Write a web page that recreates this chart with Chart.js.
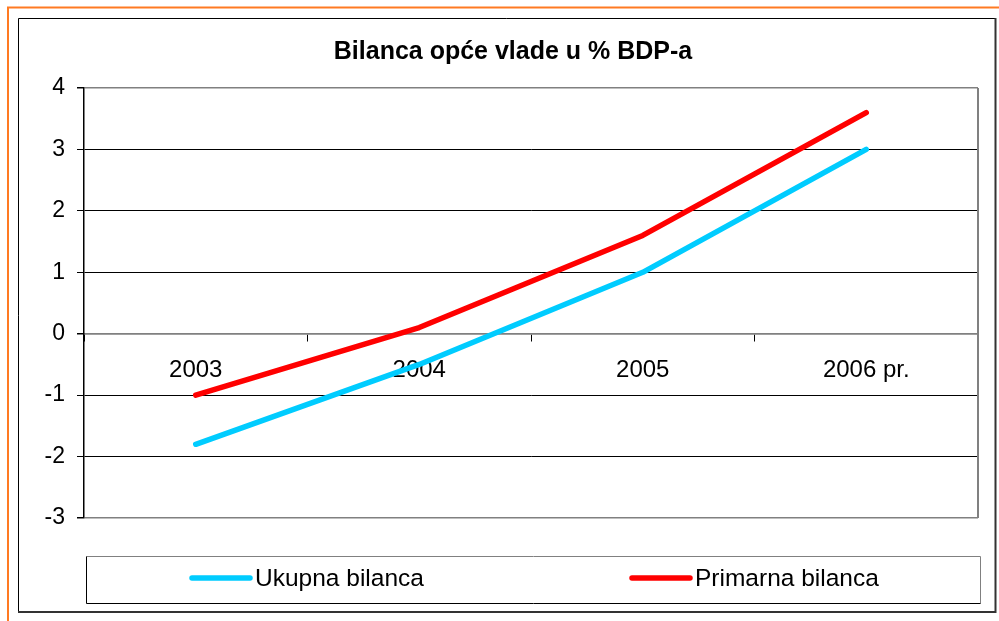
<!DOCTYPE html>
<html>
<head>
<meta charset="utf-8">
<script src="https://cdn.jsdelivr.net/npm/chart.js@4/dist/chart.umd.min.js"></script>
<style>
  body { margin: 0; background: #fff; }
  canvas { display: block; }
</style>
</head>
<body>
<canvas id="chart" width="999" height="621"></canvas>
<script>
// Data
const years = ['2003', '2004', '2005', '2006 pr.'];
const ukupna = [-1.8, -0.5, 1.0, 3.0];
const primarna = [-1.0, 0.1, 1.6, 3.6];
const yTicks = [-3, -2, -1, 0, 1, 2, 3, 4];
const chartTitle = 'Bilanca opće vlade u % BDP-a';

const FONT = '"Liberation Sans", Arial, sans-serif';

// Outer frames, title, right plot border and the boxed legend
const framePlugin = {
  id: 'frame',
  beforeDraw(chart) {
    const ctx = chart.ctx;
    ctx.save();
    ctx.fillStyle = '#fff';
    ctx.fillRect(0, 0, chart.width, chart.height);
    // orange edge
    ctx.strokeStyle = '#ff7a22';
    ctx.lineWidth = 2;
    ctx.beginPath();
    ctx.moveTo(8, 621); ctx.lineTo(8, 7.5); ctx.lineTo(999, 7.5);
    ctx.stroke();
    // chart frame
    ctx.strokeStyle = '#000';
    ctx.lineWidth = 1;
    ctx.beginPath();
    ctx.moveTo(18.5, 612); ctx.lineTo(18.5, 18.5); ctx.lineTo(995, 18.5);
    ctx.stroke();
    ctx.strokeStyle = '#333';
    ctx.lineWidth = 2;
    ctx.beginPath();
    ctx.moveTo(995.5, 18); ctx.lineTo(995.5, 612); ctx.lineTo(18, 612);
    ctx.stroke();
    ctx.restore();
  },
  beforeDatasetsDraw(chart) {
    const ctx = chart.ctx;
    const a = chart.chartArea;
    ctx.save();
    ctx.strokeStyle = '#808080';
    ctx.lineWidth = 2;
    ctx.beginPath();
    ctx.moveTo(a.right, a.top); ctx.lineTo(a.right, a.bottom);
    ctx.stroke();
    ctx.restore();
  },
  afterDraw(chart) {
    const ctx = chart.ctx;
    ctx.save();
    // title
    ctx.fillStyle = '#000';
    ctx.font = 'bold 25px ' + FONT;
    ctx.textAlign = 'center';
    ctx.textBaseline = 'middle';
    ctx.fillText(chartTitle, 513, 52);
    // legend box
    ctx.lineWidth = 1;
    ctx.strokeStyle = '#808080';
    ctx.beginPath();
    ctx.moveTo(86.5, 556.5); ctx.lineTo(980.5, 556.5); ctx.lineTo(980.5, 603.5);
    ctx.stroke();
    ctx.strokeStyle = '#000';
    ctx.beginPath();
    ctx.moveTo(980.5, 603.5); ctx.lineTo(86.5, 603.5); ctx.lineTo(86.5, 556.5);
    ctx.stroke();
    // legend items
    const starts = [192, 632];
    ctx.font = '24.5px ' + FONT;
    ctx.textAlign = 'left';
    chart.data.datasets.forEach((ds, i) => {
      const x = starts[i];
      ctx.strokeStyle = ds.borderColor;
      ctx.lineWidth = 5.5;
      ctx.lineCap = 'round';
      ctx.beginPath();
      ctx.moveTo(x, 578); ctx.lineTo(x + 58, 578);
      ctx.stroke();
      ctx.fillStyle = '#000';
      ctx.fillText(ds.label, x + 63, 579);
    });
    ctx.restore();
  }
};

const ctx = document.getElementById('chart').getContext('2d');
const chart = new Chart(ctx, {
  type: 'line',
  data: {
    labels: years,
    datasets: [
      {
        label: 'Ukupna bilanca',
        data: ukupna,
        borderColor: '#00ccff',
        borderWidth: 5.5,
        pointRadius: 0,
        borderCapStyle: 'round',
        borderJoinStyle: 'round',
        tension: 0
      },
      {
        label: 'Primarna bilanca',
        data: primarna,
        borderColor: '#ff0000',
        borderWidth: 5.5,
        pointRadius: 0,
        borderCapStyle: 'round',
        borderJoinStyle: 'round',
        tension: 0
      }
    ]
  },
  options: {
    responsive: false,
    animation: false,
    layout: { padding: { left: 0, right: 21, top: 88, bottom: 103 } },
    plugins: {
      legend: { display: false },
      title: { display: false },
      tooltip: { enabled: false }
    },
    scales: {
      x: {
        type: 'category',
        position: { y: 0 },
        offset: true,
        grid: {
          offset: true,
          drawOnChartArea: false,
          tickLength: 7,
          tickColor: '#000',
          lineWidth: 1
        },
        border: { color: '#808080', width: 1.5 },
        ticks: {
          color: '#000',
          padding: 15,
          maxRotation: 0,
          font: { family: FONT, size: 24 }
        }
      },
      y: {
        min: yTicks[0],
        max: yTicks[yTicks.length - 1],
        afterFit(scale) { scale.width = 84; },
        afterBuildTicks(scale) { scale.ticks = yTicks.map(v => ({ value: v })); },
        grid: {
          color: c => (c.tick && [0, yTicks[0], yTicks[yTicks.length - 1]].includes(c.tick.value)) ? '#808080' : '#000',
          lineWidth: c => (c.tick && [0, yTicks[0], yTicks[yTicks.length - 1]].includes(c.tick.value)) ? 1.5 : 1,
          tickLength: 7,
          tickColor: '#000'
        },
        border: { color: '#000', width: 1.5 },
        ticks: {
          color: '#000',
          padding: 12,
          font: { family: FONT, size: 23 }
        }
      }
    }
  },
  plugins: [framePlugin]
});
</script>
</body>
</html>
